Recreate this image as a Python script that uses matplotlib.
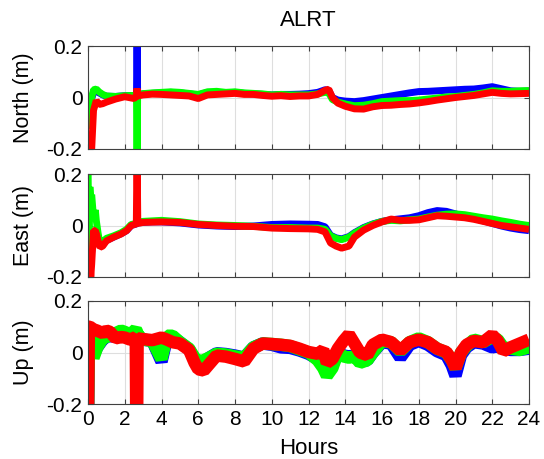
import numpy as np
import matplotlib
matplotlib.use("Agg")
import matplotlib.pyplot as plt

plt.rcParams["font.family"] = ["Liberation Sans", "DejaVu Sans"]
plt.rcParams["axes.unicode_minus"] = False

# ---- data (metres vs hours) ----
t_north = [0, 0.1, 0.2, 0.3, 0.45, 0.6, 0.8, 1.0, 1.5, 2.0,
           2.5, 2.64, 2.67, 2.70, 3.0, 3.5, 4, 4.5, 5, 5.5,
           6, 6.5, 7, 7.5, 8, 8.5, 9, 9.5, 10, 10.5,
           11, 11.5, 12, 12.5, 12.9, 13.1, 13.3, 13.6, 14, 14.5,
           15, 15.5, 16, 16.5, 17, 17.5, 18, 18.5, 19, 19.5,
           20, 20.5, 21, 21.5, 22, 22.5, 23, 23.5, 24]
north_blue = [-0.12, -0.06, -0.005, 0.02, 0.025, 0.018, 0.01, 0.005, 0.004, 0.007,
              0.008, 0.01, 0.3, 0.012, 0.014, 0.016, 0.018, 0.02, 0.018, 0.014,
              0.01, 0.02, 0.02, 0.018, 0.02, 0.016, 0.014, 0.012, 0.01, 0.012,
              0.012, 0.013, 0.015, 0.02, 0.03, 0.028, 0.0, -0.01, -0.014, -0.016,
              -0.012, -0.006, 0.0, 0.006, 0.012, 0.018, 0.023, 0.024, 0.026, 0.028,
              0.03, 0.032, 0.033, 0.037, 0.042, 0.034, 0.026, 0.024, 0.025]
north_green = [-0.12, -0.06, 0.0, 0.03, 0.033, 0.022, 0.012, 0.006, 0.004, 0.007,
               0.008, 0.01, -0.3, 0.01, 0.015, 0.018, 0.02, 0.022, 0.02, 0.016,
               0.012, 0.022, 0.024, 0.02, 0.022, 0.018, 0.016, 0.014, 0.01, 0.012,
               0.01, 0.01, 0.01, 0.014, 0.02, 0.018, -0.008, -0.018, -0.025, -0.032,
               -0.03, -0.024, -0.016, -0.014, -0.012, -0.012, -0.01, -0.006, -0.002, 0.002,
               0.004, 0.008, 0.012, 0.018, 0.026, 0.024, 0.024, 0.026, 0.027]
north_red = [-0.25, -0.25, -0.2, -0.05, -0.012, -0.027, -0.024, -0.018, -0.006, 0.003,
             -0.004, 0.004, 0.035, 0.006, 0.01, 0.013, 0.012, 0.01, 0.008, 0.006,
             -0.004, 0.01, 0.012, 0.014, 0.016, 0.012, 0.012, 0.008, 0.005, 0.007,
             0.004, 0.006, 0.006, 0.012, 0.028, 0.032, 0.0, -0.022, -0.034, -0.044,
             -0.045, -0.036, -0.031, -0.03, -0.027, -0.025, -0.021, -0.016, -0.01, -0.005,
             0.0, 0.004, 0.008, 0.014, 0.02, 0.016, 0.014, 0.015, 0.016]

t_east = [0, 0.05, 0.1, 0.15, 0.2, 0.3, 0.4, 0.45, 0.55, 0.65,
          0.8, 1.0, 1.4, 1.8, 2.1, 2.35, 2.63, 2.67, 2.71, 3.0,
          3.5, 4, 5, 6, 7, 8, 9, 10, 11, 12,
          12.5, 12.9, 13.2, 13.5, 13.8, 14.2, 14.5, 15, 15.5, 16,
          16.5, 17, 17.5, 18, 18.5, 19, 19.5, 20, 20.5, 21,
          21.5, 22, 22.5, 23, 23.5, 24]
east_blue = [-0.18, -0.17, -0.08, -0.14, -0.1, -0.04, -0.03, -0.04, -0.06, -0.08,
             -0.075, -0.058, -0.045, -0.032, -0.02, 0.0, 0.006, 0.01, 0.01, 0.012,
             0.014, 0.014, 0.01, 0.002, -0.002, -0.004, -0.002, 0.004, 0.006, 0.005,
             0.004, -0.005, -0.038, -0.048, -0.052, -0.043, -0.028, -0.008, 0.006, 0.016,
             0.022, 0.026, 0.03, 0.038, 0.05, 0.058, 0.055, 0.045, 0.036, 0.028,
             0.018, 0.008, -0.002, -0.01, -0.016, -0.02]
east_green = [0.25, -0.1, 0.15, 0.1, 0.12, 0.03, 0.06, 0.02, -0.03, -0.07,
              -0.065, -0.05, -0.04, -0.028, -0.015, 0.004, 0.008, 0.012, 0.014, 0.016,
              0.018, 0.02, 0.015, 0.006, 0.002, 0.0, -0.003, -0.008, -0.008, -0.01,
              -0.01, -0.015, -0.04, -0.05, -0.055, -0.045, -0.03, -0.01, 0.005, 0.016,
              0.02, 0.018, 0.022, 0.025, 0.033, 0.04, 0.044, 0.045, 0.042, 0.036,
              0.03, 0.025, 0.018, 0.012, 0.005, 0.0]
east_red = [-0.25, -0.25, -0.12, -0.2, -0.15, -0.02, -0.02, -0.03, -0.06, -0.085,
            -0.08, -0.06, -0.045, -0.033, -0.02, 0.0, 0.006, 0.3, 0.008, 0.012,
            0.013, 0.014, 0.012, 0.004, 0.0, -0.003, -0.004, -0.01, -0.012, -0.013,
            -0.015, -0.025, -0.068, -0.08, -0.088, -0.08, -0.045, -0.018, 0.0, 0.014,
            0.025, 0.02, 0.02, 0.022, 0.03, 0.038, 0.036, 0.033, 0.03, 0.024,
            0.016, 0.008, 0.0, -0.005, -0.01, -0.015]

t_up = [0, 0.05, 0.1, 0.3, 0.5, 0.8, 1.0, 1.2, 1.5, 1.8,
        2.0, 2.3, 2.6, 2.63, 2.67, 2.7, 3.0, 3.5, 4.0, 4.3,
        4.6, 5.0, 5.5, 5.8, 6.0, 6.3, 6.6, 7.0, 7.5, 8.0,
        8.5, 9.0, 9.5, 10, 10.5, 11, 11.5, 12, 12.5, 12.8,
        13.0, 13.3, 13.6, 13.9, 14.2, 14.5, 14.8, 15.2, 15.5, 16,
        16.5, 17, 17.5, 18, 18.5, 19, 19.5, 19.8, 20, 20.3,
        20.6, 21, 21.5, 22, 22.3, 22.6, 23, 23.5, 24]
up_blue = [-0.25, 0.09, 0.06, -0.01, 0.02, 0.05, 0.06, 0.065, 0.06, 0.07,
           0.07, 0.06, 0.075, 0.07, 0.07, 0.065, 0.05, 0.045, -0.035, 0.055,
           0.06, 0.04, 0.012, -0.025, -0.04, -0.035, -0.02, -0.003, -0.006, -0.012,
           -0.02, 0.02, 0.035, 0.03, 0.02, 0.018, 0.008, -0.005, -0.025, -0.04,
           -0.07, -0.05, 0.0, -0.012, -0.015, -0.012, -0.035, -0.03, 0.0, 0.04,
           0.035, -0.02, 0.03, 0.045, 0.03, 0.005, -0.01, -0.05, -0.09, -0.01,
           0.02, 0.04, 0.035, 0.02, 0.025, 0.015, 0.01, 0.01, 0.015]
up_green = [-0.25, 0.09, 0.06, -0.02, 0.02, 0.055, 0.06, 0.07, 0.075, 0.085,
            0.08, 0.07, 0.09, 0.085, 0.08, 0.07, 0.05, 0.045, -0.025, 0.065,
            0.065, 0.04, 0.015, -0.02, -0.035, -0.03, -0.02, -0.005, -0.008, -0.015,
            -0.02, 0.02, 0.035, 0.033, 0.03, 0.025, 0.012, 0.0, -0.03, -0.06,
            -0.09, -0.06, 0.0, -0.015, -0.02, -0.015, -0.04, -0.03, 0.0, 0.045,
            0.04, 0.005, 0.04, 0.055, 0.04, 0.015, 0.0, -0.03, -0.06, 0.0,
            0.025, 0.05, 0.04, 0.06, 0.05, 0.02, 0.015, 0.01, 0.02]
up_red = [-0.25, 0.1, 0.1, 0.09, 0.085, 0.075, 0.085, 0.08, 0.055, 0.06,
          0.058, 0.05, 0.06, -0.3, -0.3, 0.055, 0.052, 0.048, 0.058, 0.05,
          0.04, 0.035, 0.01, -0.04, -0.065, -0.07, -0.045, -0.012, -0.016, -0.025,
          -0.035, 0.015, 0.035, 0.033, 0.03, 0.026, 0.015, 0.002, -0.005, 0.01,
          -0.04, -0.025, 0.015, 0.045, 0.07, 0.035, 0.0, -0.01, 0.03, 0.05,
          0.04, 0.008, 0.04, 0.05, 0.04, 0.015, 0.002, -0.03, -0.06, 0.0,
          0.03, 0.045, 0.04, 0.068, 0.045, 0.005, 0.02, 0.035, 0.05]

panels = [
    ("North (m)", t_north, north_blue, north_green, north_red, 5.0),
    ("East (m)", t_east, east_blue, east_green, east_red, 5.0),
    ("Up (m)", t_up, up_blue, up_green, up_red, 9.0),
]

W, H = 544, 459
fig = plt.figure(figsize=(W / 100, H / 100), dpi=100)

left, right = 88, 529
tops = [46, 174, 301]
bottoms = [149, 277, 404]

for i, (label, t, b, g, r, lw) in enumerate(panels):
    ax = fig.add_axes([left / W, 1 - bottoms[i] / H,
                       (right - left) / W, (bottoms[i] - tops[i]) / H])
    for vals, col in [(b, "#0000ff"), (g, "#00ff00"), (r, "#ff0000")]:
        ax.plot(t, vals, color=col, lw=lw, solid_joinstyle="bevel",
                solid_capstyle="butt")
    ax.set_xlim(0, 24)
    ax.set_ylim(-0.2, 0.2)
    ax.set_xticks(np.arange(0, 25, 2))
    ax.set_yticks([-0.2, 0, 0.2])
    ax.set_yticklabels(["-0.2", "0", "0.2"])
    ax.grid(True, color="#dedede", lw=0.8)
    ax.set_axisbelow(True)
    ax.tick_params(direction="in", top=True, right=True, length=3.5,
                   width=0.8, labelsize=15, pad=4, colors="#404040",
                   labelcolor="black")
    for s in ax.spines.values():
        s.set_color("#404040")
        s.set_linewidth(0.8)
    if i < 2:
        ax.tick_params(labelbottom=False)
    ymid = (tops[i] + bottoms[i]) / 2
    fig.text(23 / W, 1 - ymid / H, label, rotation=90, ha="center",
             va="center", fontsize=15.5)

fig.text((left + right) / 2 / W, 1 - 20 / H, "ALRT", ha="center",
         va="center", fontsize=16)
fig.text((left + right) / 2 / W, 1 - 454 / H, "Hours", ha="center",
         va="baseline", fontsize=16)

fig.savefig("out.png", dpi=100)
